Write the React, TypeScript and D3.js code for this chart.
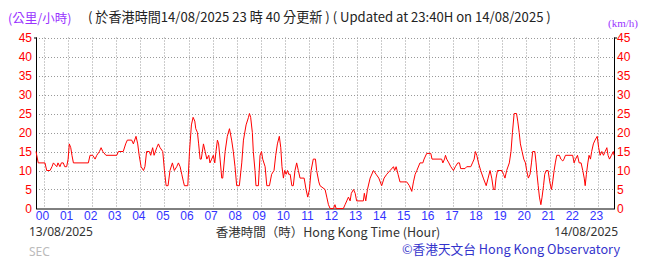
import React from "react";
import * as d3 from "d3";

const hours = [
  -0.333, -0.24, 0.04, 0.11, 0.25, 0.33, 0.39, 0.53, 0.58, 0.66, 0.72, 0.8, 0.86, 0.94, 1.0, 1.05, 1.11, 1.16, 1.22,
  1.84, 1.91, 2.02, 2.12, 2.19, 2.3, 2.37, 2.44, 2.57, 3.02, 3.09, 3.29, 3.39, 3.46, 3.64, 3.71, 3.82, 3.89, 3.95,
  4.03, 4.13, 4.19, 4.26, 4.37, 4.43, 4.51, 4.57, 4.68, 4.75, 4.82, 4.93, 5.0, 5.07, 5.15, 5.23, 5.33, 5.41, 5.51,
  5.58, 5.65, 5.72, 5.79, 5.83, 5.97, 6.04, 6.12, 6.19, 6.26, 6.3, 6.37, 6.42, 6.48, 6.53, 6.62, 6.69, 6.76, 6.84,
  6.89, 6.96, 7.03, 7.09, 7.14, 7.2, 7.25, 7.31, 7.38, 7.42, 7.52, 7.61, 7.7, 7.79, 7.86, 7.93, 8.0, 8.11, 8.21,
  8.28, 8.39, 8.49, 8.53, 8.58, 8.65, 8.69, 8.76, 8.8, 8.9, 8.97, 9.03, 9.08, 9.18, 9.25, 9.36, 9.45, 9.55, 9.62,
  9.69, 9.77, 9.83, 9.88, 9.94, 9.99, 10.05, 10.11, 10.16, 10.22, 10.29, 10.35, 10.42, 10.49, 10.56, 10.63, 10.8,
  10.88, 10.95, 11.02, 11.09, 11.18, 11.27, 11.32, 11.41, 11.46, 11.67, 11.74, 11.81, 11.88, 12.02, 12.08, 12.13,
  12.43, 12.5, 12.57, 12.64, 12.71, 12.76, 12.85, 12.92, 12.98, 13.26, 13.3, 13.36, 13.43, 13.54, 13.68, 13.79,
  13.9, 14.02, 14.12, 14.23, 14.37, 14.51, 14.56, 14.62, 14.7, 14.78, 15.06, 15.17, 15.27, 15.34, 15.41, 15.48,
  15.61, 15.73, 15.78, 15.89, 16.06, 16.11, 16.51, 16.56, 16.63, 16.67, 16.72, 16.81, 16.89, 17.0, 17.08, 17.18,
  17.25, 17.3, 17.48, 17.55, 17.72, 17.79, 17.86, 17.91, 17.97, 18.04, 18.13, 18.24, 18.36, 18.44, 18.52, 18.59,
  18.66, 18.72, 18.77, 18.83, 19.01, 19.08, 19.14, 19.21, 19.32, 19.39, 19.45, 19.52, 19.62, 19.67, 19.73, 19.78,
  19.85, 19.92, 19.99, 20.04, 20.11, 20.18, 20.24, 20.29, 20.38, 20.43, 20.47, 20.52, 20.57, 20.63, 20.68, 20.74,
  20.79, 20.85, 20.93, 21.0, 21.07, 21.12, 21.18, 21.23, 21.29, 21.4, 21.46, 21.54, 21.59, 21.65, 21.95, 22.01,
  22.07, 22.15, 22.22, 22.3, 22.37, 22.43, 22.47, 22.52, 22.58, 22.63, 22.69, 22.74, 22.81, 22.88, 22.97, 23.03,
  23.09, 23.16, 23.23, 23.3, 23.37, 23.42, 23.48, 23.56, 23.64, 23.667,
];

const speeds = [
  15, 12, 12, 10, 10, 11, 12, 11, 12, 11, 12, 12, 11, 11, 13, 17, 16, 14, 12,
  12, 14, 14, 13, 14, 15, 16, 15, 14, 14, 15, 15, 17, 18, 18, 17, 19, 17, 14,
  11, 10, 11, 15, 15, 14, 16, 14, 16, 17, 16, 15, 10, 6, 6, 10, 12, 10, 11,
  12, 11, 9, 7, 6, 6, 15, 22, 24, 23, 21, 20, 17, 13, 13, 17, 15, 13, 14,
  12, 13, 14, 12, 15, 18, 17, 13, 8, 8, 15, 19, 21, 18, 15, 11, 6, 6, 12,
  18, 22, 24, 25, 24, 20, 15, 10, 6, 6, 14, 15, 13, 11, 6, 6, 9, 10, 14,
  17, 19, 16, 11, 8, 10, 9, 10, 9, 9, 6, 6, 10, 12, 10, 8, 8,
  5, 3, 5, 10, 13, 13, 10, 7, 6, 5, 3, 1, 0, 0, 1, 0,
  0, 1, 2, 3, 2, 4, 5, 4, 2, 2, 4, 2, 5, 8, 10, 9,
  8, 6, 8, 9, 10, 11, 10, 11, 9, 7, 7, 6, 4.5, 7, 9, 10,
  12, 12, 13, 14.5, 14.5, 13, 13, 12, 13, 14, 13, 12, 11, 10, 11, 12,
  12, 10.5, 10.5, 11, 11, 12, 13, 15, 14, 12, 10, 8, 6, 8, 10, 8,
  5, 5, 8, 10, 10, 9, 8, 10, 12, 15, 20, 25, 25, 23, 20, 17,
  15, 13, 12, 10, 8, 9, 12, 15, 15, 12, 9, 6, 3, 1, 3, 6,
  9, 10, 10, 7, 5, 7, 10, 12, 14, 14, 13, 12.5, 13, 14, 14, 12,
  13, 14, 12, 12, 10, 8, 6, 9, 12, 14, 13, 15, 17, 18, 19, 16,
  14, 15, 14, 15, 16, 14, 13, 14, 15, 14,
];

const yTicks = [0, 5, 10, 15, 20, 25, 30, 35, 40, 45];
const hourLabels = ["00", "01", "02", "03", "04", "05", "06", "07", "08", "09", "10", "11",
  "12", "13", "14", "15", "16", "17", "18", "19", "20", "21", "22", "23"];

const titleText = "( 於香港時間14/08/2025 23 時 40 分更新 ) ( Updated at 23:40H on 14/08/2025 )";
const unitZh = "(公里/小時)";
const unitEn = "(km/h)";
const dateStart = "13/08/2025";
const dateEnd = "14/08/2025";
const axisTitle = "香港時間（時）Hong Kong Time (Hour)";
const credit = "©香港天文台 Hong Kong Observatory";
const source = "SEC";

export default function App() {
  const W = 655, H = 259;
  const left = 36, right = 614, top = 37.5, bottom = 208.5;
  const x = d3.scaleLinear().domain([-1 / 3, 23 + 2 / 3]).range([left, right]);
  const y = d3.scaleLinear().domain([0, 45]).range([bottom, top]);
  const line = d3.line<number>().x((_, i) => x(hours[i])).y((d) => y(d));
  const pathD = line(speeds) || "";
  const numFont = "'Liberation Sans Narrow', 'Liberation Sans', Arial, sans-serif";
  const cjkFont = "'Noto Sans CJK TC', 'Noto Sans', sans-serif";
  const latFont = "'Noto Sans', 'Noto Sans CJK TC', sans-serif";

  return (
    <svg width={W} height={H} style={{ position: "absolute", left: 0, top: 0, background: "#fff" }}>
      <rect width={W} height={H} fill="#fff" />
      {yTicks.filter((t) => t > 0).map((t) => (
        <line key={"gy" + t} x1={left} x2={right} y1={Math.round(y(t)) + 0.5} y2={Math.round(y(t)) + 0.5}
          stroke="#999" strokeDasharray="1,2" />
      ))}
      {hourLabels.map((h, i) => (
        <line key={"gx" + h} x1={Math.round(x(i)) + 0.5} x2={Math.round(x(i)) + 0.5} y1={top} y2={bottom}
          stroke="#999" strokeDasharray="1,2" />
      ))}
      <line x1={left + 0.5} x2={left + 0.5} y1={top} y2={bottom + 0.5} stroke="#000" />
      <line x1={right + 0.5} x2={right + 0.5} y1={top} y2={bottom + 0.5} stroke="#000" />
      <line x1={left} x2={right + 1} y1={bottom + 0.5} y2={bottom + 0.5} stroke="#000" />
      <line x1={left - 2} x2={left + 1} y1={top + 0.5} y2={top + 0.5} stroke="#000" />
      <line x1={right} x2={right + 3} y1={top + 0.5} y2={top + 0.5} stroke="#000" />
      <path d={pathD} fill="none" stroke="#ff0000" strokeWidth={1} strokeLinejoin="round" />
      {yTicks.map((t) => (
        <text key={"yl" + t} x={32} y={y(t) + 4} textAnchor="end" fill="#ff0000" fontSize={12} fontFamily={numFont}>{t}</text>
      ))}
      {yTicks.map((t) => (
        <text key={"yr" + t} x={617} y={y(t) + 4} textAnchor="start" fill="#ff0000" fontSize={12} fontFamily={numFont}>{t}</text>
      ))}
      {hourLabels.map((h, i) => (
        <text key={"xl" + h} x={x(i) - 1.5} y={219.5} textAnchor="middle" fill="#3333ff" fontSize={12} fontFamily={numFont}>{h}</text>
      ))}
      <text x={8} y={23} fill="#9933ff" fontSize={12.5} fontFamily={cjkFont}>{unitZh}</text>
      <text x={88} y={22} fill="#222" fontSize={13.1} fontFamily={cjkFont}>{titleText}</text>
      <text x={608} y={27} fill="#9933ff" fontSize={11} fontFamily="'Liberation Serif', serif">{unitEn}</text>
      <text x={29} y={236} fill="#333" fontSize={12} fontFamily={latFont}>{dateStart}</text>
      <text x={618} y={236} textAnchor="end" fill="#333" fontSize={12} fontFamily={latFont}>{dateEnd}</text>
      <text x={328} y={236.5} textAnchor="middle" fill="#333" fontSize={12.5} fontFamily={cjkFont}>{axisTitle}</text>
      <text x={29} y={256} fill="#bbb" fontSize={12} fontFamily={latFont}>{source}</text>
      <text x={402} y={254} fill="#3333cc" fontSize={12.7} fontFamily={cjkFont}>{credit}</text>
    </svg>
  );
}
